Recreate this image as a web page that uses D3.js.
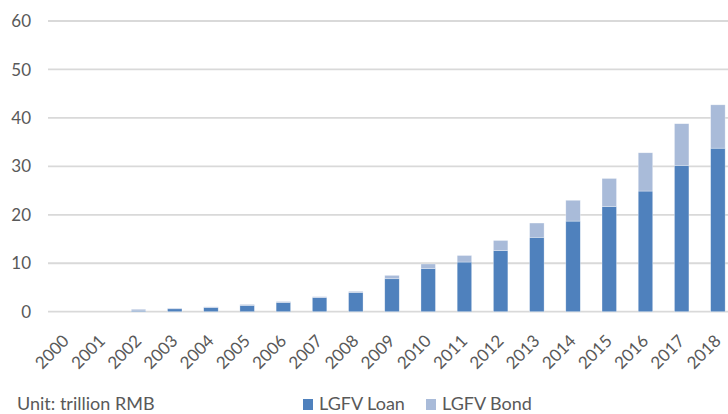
<!DOCTYPE html>
<html><head><meta charset="utf-8">
<script src="https://cdn.jsdelivr.net/npm/d3@7"></script>
<style>body{margin:0;background:#fff;} svg{display:block;}</style>
</head><body>
<svg id="c" width="728" height="414"></svg>
<script>
const years = ["2000","2001","2002","2003","2004","2005","2006","2007","2008","2009","2010","2011","2012","2013","2014","2015","2016","2017","2018"];
const loan = [0,0,0.15,0.6,0.85,1.3,1.9,2.9,3.95,6.8,8.9,10.25,12.6,15.35,18.7,21.7,24.9,30.2,33.75];
const bond = [0,0,0.35,0.15,0.15,0.2,0.2,0.2,0.25,0.7,0.95,1.35,2.1,2.95,4.3,5.8,7.9,8.6,8.95];
const yTicks = [0,10,20,30,40,50,60];
const seriesNames = ["LGFV Loan","LGFV Bond"];
const colors = ["#4f81bd","#a9bbd9"];

const svg = d3.select("#c");
const font = "Lato, 'Open Sans', sans-serif";
const x = d3.scaleBand().domain(years).range([48, 736]).paddingInner(0.6).paddingOuter(0.3);
const y = d3.scaleLinear().domain([0,60]).range([311.7, 21]);

// gridlines
svg.append("g").selectAll("line").data(yTicks).join("line")
  .attr("x1",48).attr("x2",728).attr("y1",d=>y(d)).attr("y2",d=>y(d))
  .attr("stroke","#d9d9d9").attr("stroke-width",1.8);

// y labels
svg.append("g").selectAll("text").data(yTicks).join("text")
  .attr("x",31).attr("y",d=>y(d)).attr("dy","0.36em").attr("text-anchor","end")
  .attr("font-family",font).attr("font-size",17).attr("fill","#595959").text(d=>d);

const data = years.map((yr,i)=>({year:yr, loan:loan[i], bond:bond[i]}));
const stack = d3.stack().keys(["loan","bond"])(data);
svg.append("g").selectAll("g").data(stack).join("g").attr("fill",(d,i)=>colors[i])
  .selectAll("rect").data(d=>d).join("rect")
  .attr("x",d=>x(d.data.year)).attr("width",x.bandwidth())
  .attr("y",d=>y(d[1])).attr("height",d=>Math.max(0,y(d[0])-y(d[1])))
  .attr("stroke","#ffffff").attr("stroke-opacity",0.5).attr("stroke-width",0.6);

// x labels
svg.append("g").selectAll("text").data(years).join("text")
  .attr("transform",d=>`translate(${x(d)+x.bandwidth()/2+4},${342}) rotate(-45)`)
  .attr("text-anchor","end")
  .attr("font-family",font).attr("font-size",17).attr("fill","#595959").text(d=>d);

// unit
svg.append("text").attr("x",17).attr("y",410).attr("font-family",font).attr("font-size",18)
  .attr("fill","#595959").text("Unit: trillion RMB");

// legend
const lx = [303, 426];
seriesNames.forEach((n,i)=>{
  svg.append("rect").attr("x",lx[i]).attr("y",399).attr("width",10).attr("height",11).attr("fill",colors[i]);
  svg.append("text").attr("x",lx[i]+16).attr("y",410).attr("font-family",font).attr("font-size",18)
    .attr("fill","#595959").text(n);
});
</script>
</body></html>
